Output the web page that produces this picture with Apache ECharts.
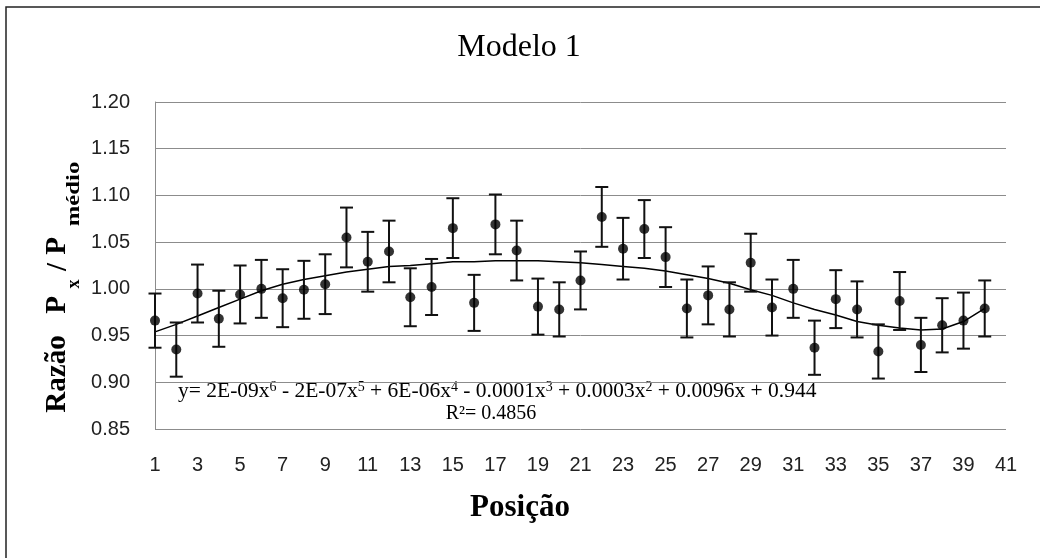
<!DOCTYPE html>
<html>
<head>
<meta charset="utf-8">
<script src="https://cdn.jsdelivr.net/npm/echarts@6/dist/echarts.min.js"></script>
<style>
  html, body { margin: 0; padding: 0; background: #fff; }
  #chart { width: 1040px; height: 558px; }
</style>
</head>
<body>
<div id="chart"></div>
<script>
// Positions along the piece (category axis, 1..41)
const positions = ['1','2','3','4','5','6','7','8','9','10','11','12','13','14','15','16','17','18','19','20',
                   '21','22','23','24','25','26','27','28','29','30','31','32','33','34','35','36','37','38','39','40','41'];

// Ratio Px / Pmédio at positions 1..40
const ratio = [0.966, 0.935, 0.995, 0.968, 0.994, 1.000, 0.990, 0.999, 1.005, 1.055,
               1.029, 1.040, 0.991, 1.002, 1.065, 0.985, 1.069, 1.041, 0.981, 0.978,
               1.009, 1.077, 1.043, 1.064, 1.034, 0.979, 0.993, 0.978, 1.028, 0.980,
               1.000, 0.937, 0.989, 0.978, 0.933, 0.987, 0.940, 0.961, 0.966, 0.979];

// Half-length of each error bar
const ratioErr = [0.029, 0.029, 0.031, 0.030, 0.031, 0.031, 0.031, 0.031, 0.032, 0.032,
                  0.032, 0.033, 0.031, 0.030, 0.032, 0.030, 0.032, 0.032, 0.030, 0.029,
                  0.031, 0.032, 0.033, 0.031, 0.032, 0.031, 0.031, 0.029, 0.031, 0.030,
                  0.031, 0.029, 0.031, 0.030, 0.029, 0.031, 0.029, 0.029, 0.030, 0.030];

// Polynomial trend line (6th order) values at positions 1..40
const trend = [0.954, 0.962, 0.971, 0.980, 0.989, 0.998, 1.005, 1.010, 1.014, 1.018,
               1.021, 1.024, 1.025, 1.027, 1.029, 1.029, 1.030, 1.030, 1.030, 1.029,
               1.028, 1.026, 1.024, 1.022, 1.019, 1.015, 1.011, 1.006, 0.999, 0.993,
               0.985, 0.978, 0.972, 0.965, 0.961, 0.958, 0.956, 0.957, 0.965, 0.979];

const yMin = 0.85, yMax = 1.20, yStep = 0.05;

const chart = echarts.init(document.getElementById('chart'), null, { renderer: 'canvas' });

const serif = "'Liberation Serif', 'Times New Roman', serif";
const sans = "'Liberation Sans', Arial, sans-serif";

const errData = ratio.map((v, i) => [i, v - ratioErr[i], v + ratioErr[i]]);
const pointData = ratio.map((v, i) => [i, v]);

const option = {
  animation: false,
  backgroundColor: '#fff',
  grid: { left: 155, right: 34, top: 102, bottom: 129 },
  xAxis: {
    type: 'category',
    data: positions,
    boundaryGap: false,
    axisLine: { show: false },
    axisTick: { show: false },
    splitLine: { show: false },
    axisLabel: { interval: 1, fontFamily: sans, fontSize: 20, color: '#222', margin: 26 }
  },
  yAxis: {
    type: 'value',
    min: yMin,
    max: yMax,
    interval: yStep,
    axisLine: { show: true, lineStyle: { color: '#8c8c8c', width: 1 } },
    axisTick: { show: false },
    splitLine: { show: true, lineStyle: { color: '#8c8c8c', width: 1 } },
    axisLabel: { fontFamily: sans, fontSize: 20, color: '#222', margin: 25,
                 formatter: v => v.toFixed(2) }
  },
  series: [
    {
      name: 'Tendência',
      type: 'line',
      data: trend,
      showSymbol: false,
      smooth: false,
      lineStyle: { color: '#000', width: 1.5 },
      z: 2
    },
    {
      name: 'Erro',
      type: 'custom',
      data: errData,
      encode: { x: 0, y: [1, 2] },
      z: 3,
      renderItem: function (params, api) {
        const x = api.value(0);
        const lo = api.coord([x, api.value(1)]);
        const hi = api.coord([x, api.value(2)]);
        const w = 6.5;
        const st = { stroke: '#111', lineWidth: 2 };
        return {
          type: 'group',
          children: [
            { type: 'line', shape: { x1: hi[0], y1: hi[1], x2: lo[0], y2: lo[1] }, style: st },
            { type: 'line', shape: { x1: hi[0] - w, y1: hi[1], x2: hi[0] + w, y2: hi[1] }, style: st },
            { type: 'line', shape: { x1: lo[0] - w, y1: lo[1], x2: lo[0] + w, y2: lo[1] }, style: st }
          ]
        };
      }
    },
    {
      name: 'Razão',
      type: 'scatter',
      data: pointData,
      symbol: 'circle',
      symbolSize: 10,
      itemStyle: { color: '#000' },
      z: 4
    }
  ],
  graphic: [
    // frame
    { type: 'rect', shape: { x: 6, y: 7, width: 1100, height: 600 },
      style: { fill: 'none', stroke: '#222', lineWidth: 1.5 }, silent: true, z: 0 },
    // title
    { type: 'text', x: 519, y: 48,
      style: { text: 'Modelo 1', font: "normal 32px " + serif, fill: '#000', align: 'center', verticalAlign: 'middle' } },
    // x axis name
    { type: 'text', x: 520, y: 508,
      style: { text: 'Posição', font: "bold 31px " + serif, fill: '#000', align: 'center', verticalAlign: 'middle' } },
    // y axis name, read bottom to top
    { type: 'text', x: 58, y: 374, rotation: Math.PI / 2,
      style: { text: 'Razão', font: "bold 29px " + serif, fill: '#000', align: 'center', verticalAlign: 'middle' } },
    { type: 'text', x: 58, y: 305, rotation: Math.PI / 2,
      style: { text: 'P', font: "bold 29px " + serif, fill: '#000', align: 'center', verticalAlign: 'middle' } },
    { type: 'text', x: 74, y: 284, rotation: Math.PI / 2,
      style: { text: 'x', font: "bold 18px " + serif, fill: '#000', align: 'center', verticalAlign: 'middle' } },
    { type: 'text', x: 59, y: 267, rotation: Math.PI / 2,
      style: { text: '/', font: "bold 29px " + serif, fill: '#000', align: 'center', verticalAlign: 'middle' } },
    { type: 'text', x: 58, y: 246, rotation: Math.PI / 2,
      style: { text: 'P', font: "bold 29px " + serif, fill: '#000', align: 'center', verticalAlign: 'middle' } },
    { type: 'text', x: 74, y: 194, rotation: Math.PI / 2, scaleX: 1.3,
      style: { text: 'médio', font: "bold 19px " + serif, fill: '#000', align: 'center', verticalAlign: 'middle' } },
    // trend line equation
    { type: 'text', x: 178, y: 391,
      style: {
        text: '{t|y= 2E-09x}{s|6}{t| - 2E-07x}{s|5}{t| + 6E-06x}{s|4}{t| - 0.0001x}{s|3}{t| + 0.0003x}{s|2}{t| + 0.0096x + 0.944}',
        align: 'left', verticalAlign: 'middle',
        rich: {
          t: { fontFamily: serif, fontSize: 21.5, lineHeight: 22, fill: '#000', verticalAlign: 'bottom' },
          s: { fontFamily: serif, fontSize: 14, lineHeight: 12, fill: '#000', verticalAlign: 'top' }
        }
      } },
    { type: 'text', x: 491, y: 414,
      style: { text: 'R²= 0.4856', font: "normal 20px " + serif, fill: '#000', align: 'center', verticalAlign: 'middle' } }
  ]
};

chart.setOption(option);
</script>
</body>
</html>
